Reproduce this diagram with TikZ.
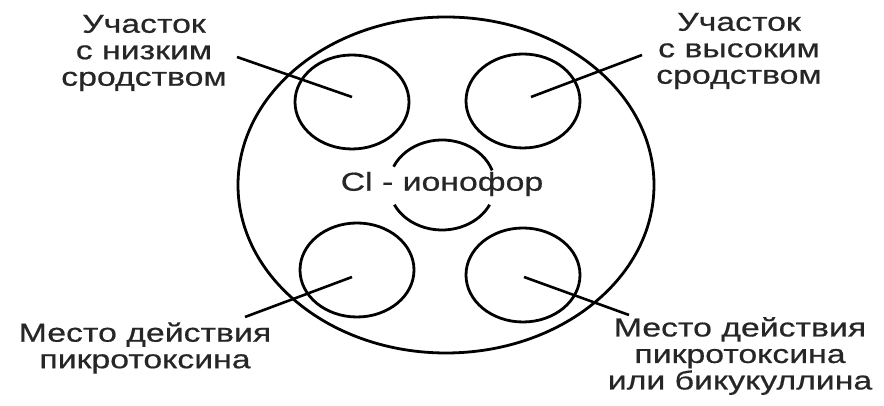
\documentclass[tikz,border=0pt]{standalone}
\usepackage{fontspec}
\setmainfont{Liberation Sans}
\newfontfamily\widesans[FakeStretch=1.3,FakeBold=0.6]{Liberation Sans}
\usetikzlibrary{shapes.geometric}
\tikzset{
  lab/.style={align=center, inner sep=0pt, text=black!85,
    font=\widesans\fontsize{26}{26.5}\selectfont},
  site/.style={ellipse, draw, line width=2.8pt, minimum width=114pt, minimum height=94pt, inner sep=0pt},
  outer/.style={ellipse, draw, line width=2.8pt, minimum width=416pt, minimum height=336pt, inner sep=0pt},
  leader/.style={line width=2.6pt},
  ionarc/.style={line width=2.8pt}
}
\begin{document}
\begin{tikzpicture}[x=1pt,y=1pt]
\useasboundingbox (0,0) rectangle (884,406);
\node[outer] (rec) at (446,221) {};
\node[site] (tl) at (352,304) {};
\node[site] (tr) at (523,305) {};
\node[site] (bl) at (357,136) {};
\node[site] (br) at (523,131) {};
% ionophore
\coordinate (ion) at (442,221);
\draw[ionarc] ([shift={(19:53pt and 45pt)}]ion) arc[start angle=19, end angle=156, x radius=53pt, y radius=45pt];
\draw[ionarc] ([shift={(206:53pt and 45pt)}]ion) arc[start angle=206, end angle=334, x radius=53pt, y radius=45pt];
\node[lab] (iontext) at (442,222) {Cl - ионофор};
% labels
\node[lab] (ltl) at (144,353) {Участок\\с низким\\сродством};
\node[lab] (ltr) at (739,355) {Участок\\с высоким\\сродством};
\node[lab] (lbl) at (145,58) {Место действия\\пикротоксина};
\node[lab] (lbr) at (740,50) {Место действия\\пикротоксина\\или бикукуллина};
% leader ends
\coordinate (a1) at (237,349);
\coordinate (a2) at (352,309);
\coordinate (b1) at (531,309);
\coordinate (b2) at (642,351);
\coordinate (c1) at (245,89);
\coordinate (c2) at (352,129);
\coordinate (d1) at (524,129);
\coordinate (d2) at (629,91);
\draw[leader] (a1) -- (a2);
\draw[leader] (b1) -- (b2);
\draw[leader] (c1) -- (c2);
\draw[leader] (d1) -- (d2);
\end{tikzpicture}
\end{document}
